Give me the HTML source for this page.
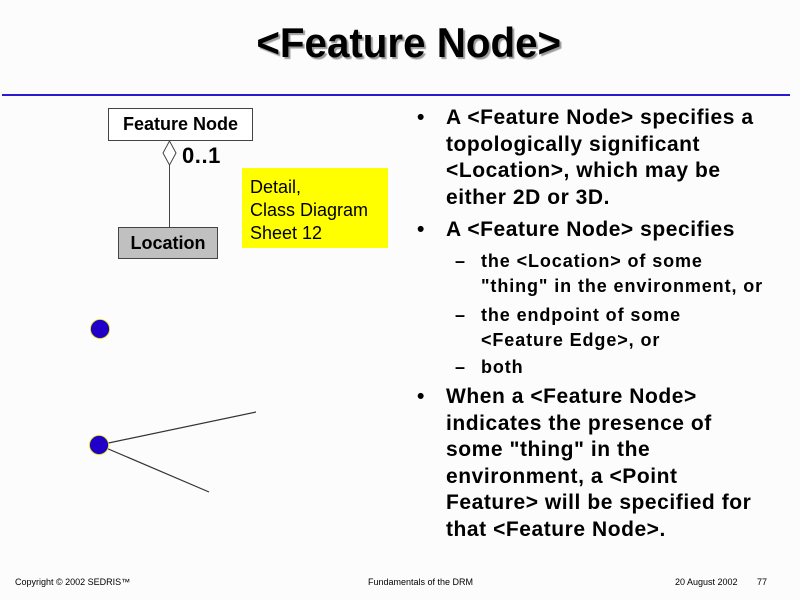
<!DOCTYPE html>
<html><head><meta charset="utf-8"><style>
body{margin:0;background:#fcfcfc;}
#p{position:relative;width:800px;height:600px;overflow:hidden;font-family:"Liberation Sans",Arial,sans-serif;color:#000;background:#fcfcfc}
.t{position:absolute;white-space:nowrap;font-weight:bold;font-size:21px;line-height:20px;letter-spacing:0.55px}
.s{position:absolute;white-space:nowrap;font-weight:bold;font-size:18px;line-height:17px;letter-spacing:0.9px}
.f{position:absolute;white-space:nowrap;font-size:9px;line-height:9px}
</style></head><body><div id="p">
<div style="position:absolute;left:9px;width:800px;top:22px;text-align:center;font-weight:bold;font-size:42px;line-height:42px;"><span style="display:inline-block;transform:scaleX(0.96);text-shadow:2px 2px 1px #999">&lt;Feature Node&gt;</span></div>
<div style="position:absolute;left:2px;top:94px;width:788px;height:2px;background:#2a1ad0"></div>
<svg style="position:absolute;left:0;top:0" width="800" height="600">
<rect x="108.5" y="108.5" width="144" height="32" fill="#fff" stroke="#444"/>
<rect x="118.5" y="227.5" width="99" height="31" fill="#c0c0c0" stroke="#444"/>
<line x1="169.5" y1="165" x2="169.5" y2="227" stroke="#444"/>
<polygon points="169.5,141 176,153 169.5,165 163,153" fill="#fff" stroke="#444"/>
<rect x="242" y="168" width="146" height="80" fill="#ffff00"/>
<line x1="99" y1="445" x2="256" y2="412" stroke="#333" stroke-width="1.2"/>
<line x1="99" y1="445" x2="209" y2="492" stroke="#333" stroke-width="1.2"/>
<circle cx="100" cy="329" r="9.5" fill="#2000c8" stroke="#dd0" stroke-width="0.8"/>
<circle cx="99" cy="445" r="9.5" fill="#2000c8" stroke="#dd0" stroke-width="0.8"/>
</svg>
<div style="position:absolute;left:108px;top:114px;width:145px;text-align:center;font-size:18px;line-height:20px;font-weight:bold">Feature Node</div>
<div style="position:absolute;left:118px;top:233px;width:100px;text-align:center;font-size:18px;line-height:20px;font-weight:bold">Location</div>
<div class="t" style="left:182px;top:146px;font-size:22px">0..1</div>
<div style="position:absolute;left:250px;top:176px;font-size:18px;line-height:23px">Detail,<br>Class Diagram<br>Sheet 12</div>

<div class="t" style="left:417px;top:108px">•</div>
<div class="t" style="left:446px;top:108px">A &lt;Feature Node&gt; specifies a</div>
<div class="t" style="left:446px;top:135px">topologically significant</div>
<div class="t" style="left:446px;top:161px">&lt;Location&gt;, which may be</div>
<div class="t" style="left:446px;top:188px">either 2D or 3D.</div>
<div class="t" style="left:417px;top:220px">•</div>
<div class="t" style="left:446px;top:220px">A &lt;Feature Node&gt; specifies</div>
<div class="s" style="left:455px;top:253px">–</div>
<div class="s" style="left:481px;top:253px">the &lt;Location&gt; of some</div>
<div class="s" style="left:481px;top:278px">"thing" in the environment, or</div>
<div class="s" style="left:455px;top:307px">–</div>
<div class="s" style="left:481px;top:307px">the endpoint of some</div>
<div class="s" style="left:481px;top:332px">&lt;Feature Edge&gt;, or</div>
<div class="s" style="left:455px;top:359px">–</div>
<div class="s" style="left:481px;top:359px">both</div>
<div class="t" style="left:417px;top:387px">•</div>
<div class="t" style="left:446px;top:387px">When a &lt;Feature Node&gt;</div>
<div class="t" style="left:446px;top:414px">indicates the presence of</div>
<div class="t" style="left:446px;top:440px">some "thing" in the</div>
<div class="t" style="left:446px;top:467px">environment, a &lt;Point</div>
<div class="t" style="left:446px;top:493px">Feature&gt; will be specified for</div>
<div class="t" style="left:446px;top:520px">that &lt;Feature Node&gt;.</div>

<div class="f" style="left:15px;top:578px">Copyright © 2002 SEDRIS™</div>
<div class="f" style="left:368px;top:578px">Fundamentals of the DRM</div>
<div class="f" style="left:675px;top:578px">20 August 2002</div>
<div class="f" style="left:757px;top:578px">77</div>
</div></body></html>
